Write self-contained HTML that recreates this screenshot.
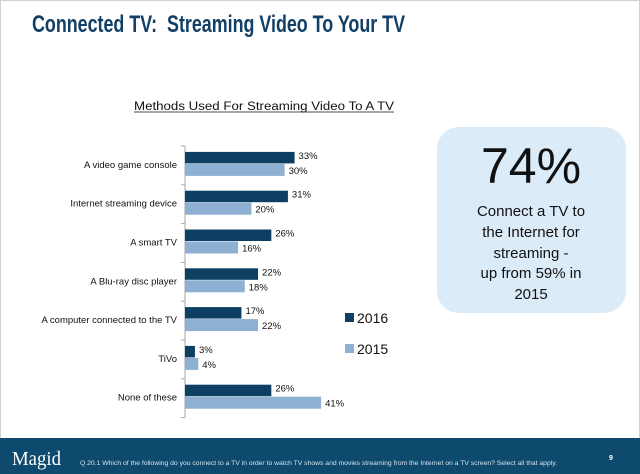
<!DOCTYPE html>
<html><head><meta charset="utf-8"><style>
html,body{margin:0;padding:0;background:#fff;}
svg{display:block;font-family:"Liberation Sans",sans-serif;}
</style></head><body>
<svg id="chart" width="640" height="474" viewBox="0 0 640 474">
<rect x="0.5" y="0.5" width="639" height="473" fill="#fff" stroke="#d0d0d0"/>
<text x="32" y="32" font-size="24" font-weight="bold" fill="#123f66" textLength="373" lengthAdjust="spacingAndGlyphs">Connected TV:&#160; Streaming Video To Your TV</text>
<text x="134" y="110" font-size="11.5" fill="#111" textLength="260" lengthAdjust="spacingAndGlyphs">Methods Used For Streaming Video To A TV</text>
<line x1="134" y1="112" x2="394" y2="112" stroke="#111" stroke-width="0.8"/>
<g id="plot"></g>
<g>
<rect x="345" y="313" width="9" height="9" fill="#0d3f63"/>
<text x="357" y="323" font-size="14" fill="#111">2016</text>
<rect x="345" y="344" width="9" height="9" fill="#8db0d3"/>
<text x="357" y="354" font-size="14" fill="#111">2015</text>
</g>
<g>
<rect x="437" y="127" width="189" height="186" rx="22" fill="#dcebf8"/>
<text x="531" y="183" font-size="50" text-anchor="middle" fill="#111">74%</text>
<g font-size="15" text-anchor="middle" fill="#111">
<text x="531" y="216">Connect a TV to</text>
<text x="531" y="237">the Internet for</text>
<text x="531" y="258">streaming -</text>
<text x="531" y="278">up from 59% in</text>
<text x="531" y="299">2015</text>
</g>
</g>
<rect x="0" y="438" width="640" height="36" fill="#0e4a6e"/>
<text x="12" y="465" font-family="Liberation Serif,serif" font-size="20" fill="#fff" textLength="49" lengthAdjust="spacingAndGlyphs">Magid</text>
<text x="80" y="465" font-size="6" fill="#d8e4ee" textLength="477" lengthAdjust="spacingAndGlyphs">Q.20.1 Which of the following do you connect to a TV in order to watch TV shows and movies streaming from the Internet on a TV screen? Select all that apply.</text>
<text x="609" y="460" font-size="7" font-weight="bold" fill="#fff">9</text>
</svg>
<script>
const categories = ["A video game console","Internet streaming device","A smart TV","A Blu-ray disc player","A computer connected to the TV","TiVo","None of these"];
const values2016 = [33,31,26,22,17,3,26];
const values2015 = [30,20,16,18,22,4,41];
const NS="http://www.w3.org/2000/svg";
const plot=document.getElementById('plot');
const x0=185, pxPer=3.32, top0=146, step=38.8;
const xScale=v=>v*pxPer;
const yCenter=i=>top0+step*i+step/2-1.5;
function mk(tag,attrs){const e=document.createElementNS(NS,tag);for(const k in attrs)e.setAttribute(k,attrs[k]);plot.appendChild(e);return e;}
const ax=mk('line',{x1:x0,y1:top0,x2:x0,y2:top0+step*categories.length,stroke:'#aaa','stroke-width':1});


for(let i=0;i<=categories.length;i++){
  const t=mk('line',{x1:x0-4,y1:top0+step*i,x2:x0,y2:top0+step*i,stroke:'#aaa','stroke-width':1});
  
  
}
categories.forEach((c,i)=>{
  const cy=yCenter(i);
  const lb=mk('text',{x:x0-8,y:cy+4,'font-size':9.5,'text-anchor':'end',fill:'#111'});
  lb.textContent=c;
  
  
  const b1=mk('rect',{x:x0,y:cy-12,width:xScale(values2016[i]),height:11.5,fill:'#0d3f63'});
  
  
  const b2=mk('rect',{x:x0,y:cy,width:xScale(values2015[i]),height:12,fill:'#8db0d3'});
  
  
  const v1=mk('text',{x:x0+xScale(values2016[i])+4,y:cy-5,'font-size':9.5,fill:'#111'});
  v1.textContent=values2016[i]+'%';
  
  
  const v2=mk('text',{x:x0+xScale(values2015[i])+4,y:cy+10,'font-size':9.5,fill:'#111'});
  v2.textContent=values2015[i]+'%';
  
  
});
</script>
</body></html>
